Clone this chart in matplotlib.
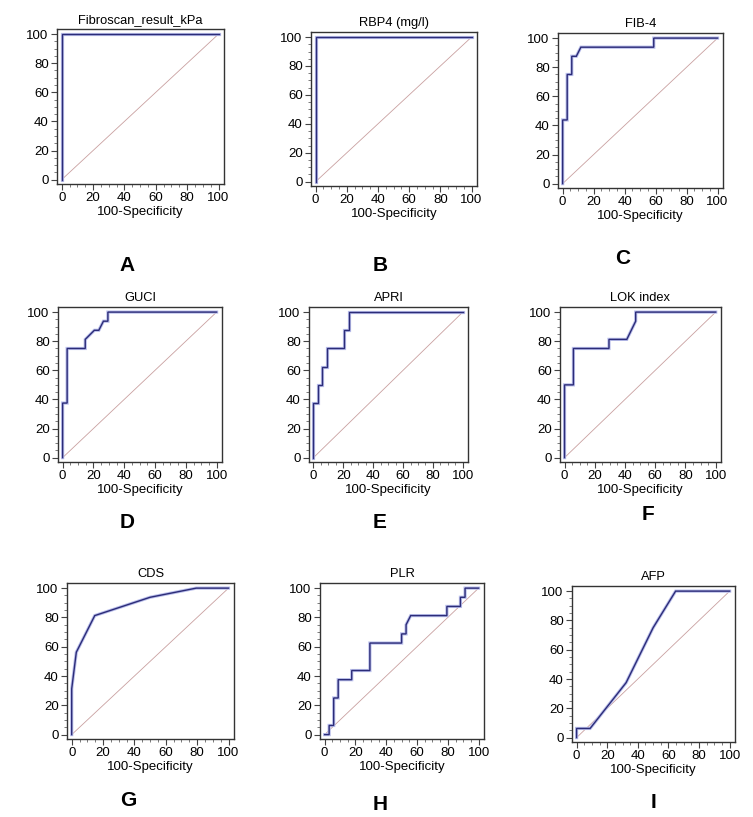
import matplotlib.pyplot as plt
import numpy as np
from matplotlib.ticker import MultipleLocator

plt.rcParams["font.family"] = ["Liberation Sans", "DejaVu Sans"]

W, H = 753, 817

titles = ["Fibroscan_result_kPa", "RBP4 (mg/l)", "FIB-4",
          "GUCI", "APRI", "LOK index",
          "CDS", "PLR", "AFP"]
letters = ["A", "B", "C", "D", "E", "F", "G", "H", "I"]

# ROC curves: (100-Specificity, Sensitivity)
fibroscan_x = [0, 0, 100]
fibroscan_y = [0, 100, 100]
rbp4_x = [0, 0, 100]
rbp4_y = [0, 100, 100]
fib4_x = [0, 0, 2.94, 2.94, 5.88, 5.88, 8.82, 11.76, 58.8, 58.8, 100]
fib4_y = [0, 43.75, 43.75, 75, 75, 87.5, 87.5, 93.75, 93.75, 100, 100]
guci_x = [0, 0, 2.94, 2.94, 14.7, 14.7, 20.6, 23.5, 26.5, 29.4, 29.4, 100]
guci_y = [0, 37.5, 37.5, 75, 75, 81.25, 87.5, 87.5, 93.75, 93.75, 100, 100]
apri_x = [0, 0, 2.94, 2.94, 5.88, 5.88, 8.82, 8.82, 20.6, 20.6, 23.5, 23.5, 100]
apri_y = [0, 37.5, 37.5, 50, 50, 62.5, 62.5, 75, 75, 87.5, 87.5, 100, 100]
lok_x = [0, 0, 5.88, 5.88, 29.4, 29.4, 41.2, 47.06, 47.06, 100]
lok_y = [0, 50, 50, 75, 75, 81.25, 81.25, 93.75, 100, 100]
cds_x = [0, 0, 2.94, 14.7, 50, 79.4, 100]
cds_y = [0, 31.25, 56.25, 81.25, 93.75, 100, 100]
plr_x = [0, 2.94, 2.94, 5.88, 5.88, 8.82, 8.82, 17.6, 17.6, 29.4, 29.4, 50, 50,
         52.9, 52.9, 55.9, 79.4, 79.4, 88.2, 88.2, 91.2, 91.2, 100]
plr_y = [0, 0, 6.25, 6.25, 25, 25, 37.5, 37.5, 43.75, 43.75, 62.5, 62.5, 68.75,
         68.75, 75, 81.25, 81.25, 87.5, 87.5, 93.75, 93.75, 100, 100]
afp_x = [0, 0, 8.82, 32.35, 50, 64.7, 100]
afp_y = [0, 6.25, 6.25, 37.5, 75, 100, 100]

curves_x = [fibroscan_x, rbp4_x, fib4_x, guci_x, apri_x, lok_x, cds_x, plr_x, afp_x]
curves_y = [fibroscan_y, rbp4_y, fib4_y, guci_y, apri_y, lok_y, cds_y, plr_y, afp_y]

# axes boxes in pixels: left, right, top, bottom
boxes = [(57, 224, 29, 184), (311, 477, 32, 186), (558, 723, 33, 188),
         (58, 222, 307, 462), (309, 468, 307, 462), (560, 721, 307, 462),
         (67, 234, 583, 739), (320, 484, 583, 739), (572, 735, 586, 742)]
letter_pos = [(127, 265), (380, 265), (623, 259),
              (127, 523), (380, 523), (648, 515),
              (128, 801), (380, 805), (654, 803)]

fig = plt.figure(figsize=(W / 100, H / 100), dpi=100)

for i in range(9):
    l, r, t, b = boxes[i]
    ax = fig.add_axes([l / W, 1 - b / H, (r - l) / W, (b - t) / H])
    ax.plot([0, 100], [0, 100], color="#c9a0a0", lw=0.6)
    ax.plot(curves_x[i], curves_y[i], color="#b8bdea", lw=2.3, solid_joinstyle="miter")
    ax.plot(curves_x[i], curves_y[i], color="#2c2c78", lw=1.0, solid_joinstyle="miter")
    ax.set_xlim(-3, 103.5)
    ax.set_ylim(-3, 103.5)
    ax.set_xticks(np.arange(0, 101, 20))
    ax.set_yticks(np.arange(0, 101, 20))
    ax.xaxis.set_minor_locator(MultipleLocator(5))
    ax.yaxis.set_minor_locator(MultipleLocator(5))
    ax.tick_params(which="major", direction="out", length=4, width=0.8,
                   labelsize=9.5, pad=2, color="#444444")
    ax.tick_params(which="minor", direction="out", length=2.5, width=0.6,
                   color="#666666")
    for s in ax.spines.values():
        s.set_color("#333333")
        s.set_linewidth(1.0)
    ax.set_title(titles[i], fontsize=9.3, pad=4)
    ax.set_xlabel("100-Specificity", fontsize=9.5, labelpad=1.5)
    lx, ly = letter_pos[i]
    fig.text(lx / W, 1 - ly / H, letters[i], fontsize=15, fontweight="bold",
             ha="center", va="center")

fig.savefig("out.png", dpi=100)
